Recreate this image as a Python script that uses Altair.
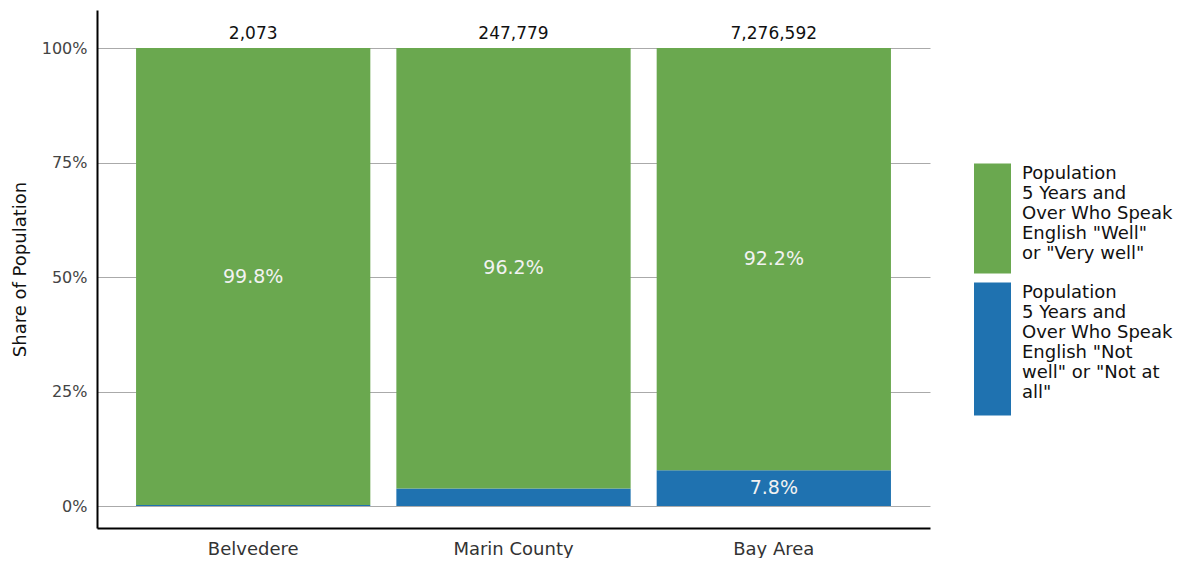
import altair as alt
import pandas as pd

places = ["Belvedere", "Marin County", "Bay Area"]
well_pct = [99.8, 96.2, 92.2]
notwell_pct = [0.2, 3.8, 7.8]
totals = [2073, 247779, 7276592]

S_WELL = 'Population 5 Years and Over Who Speak English "Well" or "Very well"'
S_NOT = 'Population 5 Years and Over Who Speak English "Not well" or "Not at all"'
GREEN = "#6aa84f"
BLUE = "#1f72b0"
FONT = "DejaVu Sans"

# legend swatch shapes (unit = half of 37 px)
SHAPE_WELL = "M-1,-0.54H1V5.41H-1Z"
SHAPE_NOT = "M-1,-0.54H1V6.65H-1Z"

rows = []
for p, w, n in zip(places, well_pct, notwell_pct):
    rows.append({"place": p, "series": S_NOT, "value": n, "ord": 0})
    rows.append({"place": p, "series": S_WELL, "value": w, "ord": 1})
df = pd.DataFrame(rows)
tot = pd.DataFrame({"place": places, "total": totals, "top": [100] * 3})

xenc = alt.X("place:N", sort=places, title=None,
             scale=alt.Scale(paddingInner=0.1, paddingOuter=0.15),
             axis=alt.Axis(labelAngle=0, labelFont=FONT, labelFontSize=18, labelColor="#333",
                           ticks=False, domainColor="black", domainWidth=2, labelPadding=12,
                           grid=False))
yscale = alt.Scale(domain=[-4.8, 108.3], nice=False, zero=False)

label_expr = ("datum.label == '" + S_WELL.replace('"', '\\"') + "' ? "
              "['Population', '5 Years and', 'Over Who Speak', 'English \"Well\"', 'or \"Very well\"'] : "
              "['Population', '5 Years and', 'Over Who Speak', 'English \"Not', 'well\" or \"Not at', 'all\"']")

legend = alt.Legend(
    title=None, orient="none", legendX=877, legendY=145,
    symbolSize=1369, symbolStrokeWidth=0, symbolOpacity=1,
    labelFont=FONT, labelFontSize=18, labelColor="#111",
    labelLimit=300, labelOffset=11, rowPadding=-2, padding=0,
    labelExpr=label_expr)

color_enc = alt.Color("series:N", scale=alt.Scale(domain=[S_WELL, S_NOT], range=[GREEN, BLUE]),
                      legend=legend)

bars = alt.Chart(df).mark_bar().encode(
    x=xenc,
    y=alt.Y("value:Q", stack="zero", scale=yscale, title="Share of Population",
            axis=alt.Axis(values=[0, 25, 50, 75, 100], labelExpr="datum.value + '%'",
                          labelFont=FONT, labelFontSize=16, labelColor="#444",
                          titleFont=FONT, titleFontSize=18, titleFontWeight="normal",
                          titleColor="#111", ticks=False, domainColor="black", domainWidth=2,
                          gridColor="#aaaaaa", gridWidth=1, labelPadding=10, titlePadding=12)),
    color=color_enc,
    order=alt.Order("ord:Q"),
)

# invisible points, only to give the legend its tall swatches
swatch = alt.Chart(df).mark_point(filled=True, opacity=0).encode(
    x=alt.X("place:N", sort=places),
    y=alt.Y("value:Q", stack=None, scale=yscale),
    color=color_enc,
    shape=alt.Shape("series:N", scale=alt.Scale(domain=[S_WELL, S_NOT], range=[SHAPE_WELL, SHAPE_NOT]),
                    legend=legend),
)

labels = alt.Chart(df).transform_stack(
    stack="value", groupby=["place"], as_=["v0", "v1"], sort=[alt.SortField("ord")]
).transform_calculate(
    mid="(datum.v0 + datum.v1) / 2",
    lbl="format(datum.value, '.1f') + '%'"
).transform_filter("datum.value > 5").mark_text(
    font=FONT, fontSize=19, color="#f2f2f2"
).encode(
    x=alt.X("place:N", sort=places),
    y=alt.Y("mid:Q", scale=yscale),
    text="lbl:N",
)

toplabels = alt.Chart(tot).mark_text(
    font=FONT, fontSize=17, color="#111", baseline="bottom", dy=-5
).encode(
    x=alt.X("place:N", sort=places),
    y=alt.Y("top:Q", scale=yscale),
    text=alt.Text("total:Q", format=","),
)

chart = alt.layer(bars, swatch, labels, toplabels).properties(
    width=833, height=518,
    autosize=alt.AutoSizeParams(type="none"),
    padding={"left": 89, "top": 2, "right": 250, "bottom": 30},
).configure_view(stroke=None)

chart.save("out.html", embed_options={"renderer": "svg", "actions": False})
